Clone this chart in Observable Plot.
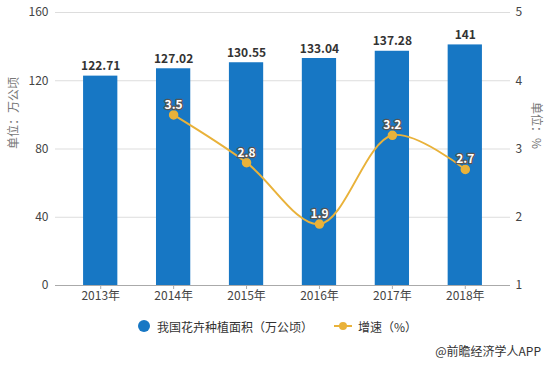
<!DOCTYPE html>
<html><head><meta charset="utf-8">
<script src="https://cdn.jsdelivr.net/npm/d3@7"></script>
<script src="https://cdn.jsdelivr.net/npm/@observablehq/plot@0.6"></script>
<style>
body{margin:0;background:#fff;font-family:"Noto Sans CJK SC","Noto Sans",sans-serif;}
#wrap{position:relative;width:550px;height:368px;}
#legend{position:absolute;left:0;top:315px;width:550px;height:22px;font-size:12px;color:#333;}
.item{position:absolute;top:0;display:flex;align-items:center;height:22px;}
#caption{position:absolute;right:9px;top:342px;font-size:12px;color:#333;}
</style></head>
<body><div id="wrap"><div id="chart"></div>
<div id="legend"></div><div id="caption"></div></div>
<script>
const years = ["2013","2014","2015","2016","2017","2018"];
const tickLabels = ["2013年","2014年","2015年","2016年","2017年","2018年"];
const areaValues = [122.71, 127.02, 130.55, 133.04, 137.28, 141];
const growthYears = ["2014","2015","2016","2017","2018"];
const growthValues = [3.5, 2.8, 1.9, 3.2, 2.7];
const leftTicks = [0, 40, 80, 120, 160];
const rightTicks = [1, 2, 3, 4, 5];
const seriesNames = ["我国花卉种植面积（万公顷）", "增速（%）"];
const leftLabel = "单位：万公顷";
const rightLabel = "单位：%";
const captionText = "@前瞻经济学人APP";

const barColor = "#1777C4";
const lineColor = "#E9B23A";
// map right-axis value (1..5) to left scale (0..160)
const toLeft = v => (v - 1) * 40;
const fromLeft = v => v / 40 + 1;

const bars = years.map((y, i) => ({year: y, value: areaValues[i]}));
const growth = growthYears.map((y, i) => ({year: y, value: growthValues[i], yv: toLeft(growthValues[i])}));
const labelOf = Object.fromEntries(years.map((y, i) => [y, tickLabels[i]]));

const chart = Plot.plot({
  width: 550, height: 310,
  marginTop: 12, marginBottom: 25, marginLeft: 55, marginRight: 40,
  style: {fontFamily: '"Noto Sans CJK SC","Noto Sans",sans-serif', fontSize: "12px", color: "#333", background: "#fff"},
  x: {domain: years, paddingInner: 0.53, paddingOuter: 0.385, round: false, axis: null},
  y: {domain: [0, 160], axis: null},
  marks: [
    Plot.gridY(leftTicks.slice(1), {stroke: "#ddd", strokeOpacity: 1}),
    Plot.barY(bars, {x: "year", y: "value", fill: barColor}),
    Plot.ruleY([0], {stroke: "#aaa"}),
    Plot.axisX({tickSize: 4, tickPadding: 2, stroke: "#aaa", label: null, tickFormat: d => labelOf[d], fill: "#444"}),
    Plot.axisY({anchor: "left", ticks: leftTicks, tickSize: 0, tickPadding: 7, label: null, fill: "#444"}),
    Plot.axisY({anchor: "right", ticks: rightTicks.map(toLeft), tickSize: 0, tickPadding: 5, label: null, tickFormat: d => String(fromLeft(d)), fill: "#444"}),
    Plot.text(bars, {x: "year", y: "value", text: d => String(d.value), lineAnchor: "bottom", dy: -6, fontWeight: "bold", fontSize: 12, fill: "#333"}),
    Plot.line(growth, {x: "year", y: "yv", stroke: lineColor, strokeWidth: 2, curve: "catmull-rom"}),
    Plot.dot(growth, {x: "year", y: "yv", r: 4, fill: lineColor, stroke: lineColor}),
    Plot.text(growth, {x: "year", y: "yv", text: d => String(d.value), lineAnchor: "bottom", dy: -6, fontWeight: "bold", fontSize: 12, fill: "#fff", stroke: "#555", strokeWidth: 2.5}),
    Plot.text([leftLabel], {frameAnchor: "left", dx: -41, rotate: -90, fill: "#777", fontSize: 12}),
    Plot.text([rightLabel], {frameAnchor: "right", dx: 25, rotate: 90, fill: "#777", fontSize: 12})
  ]
});
document.getElementById("chart").appendChild(chart);

const legend = document.getElementById("legend");
legend.innerHTML =
  `<div class="item" style="left:137px"><svg width="14" height="14"><circle cx="7" cy="7" r="6" fill="${barColor}"/></svg><span style="margin-left:6px">${seriesNames[0]}</span></div>` +
  `<div class="item" style="left:333px"><svg width="20" height="14"><line x1="1" y1="7" x2="19" y2="7" stroke="${lineColor}" stroke-width="2"/><circle cx="10" cy="7" r="4" fill="${lineColor}"/></svg><span style="margin-left:5px">${seriesNames[1]}</span></div>`;
document.getElementById("caption").textContent = captionText;
</script></body></html>
